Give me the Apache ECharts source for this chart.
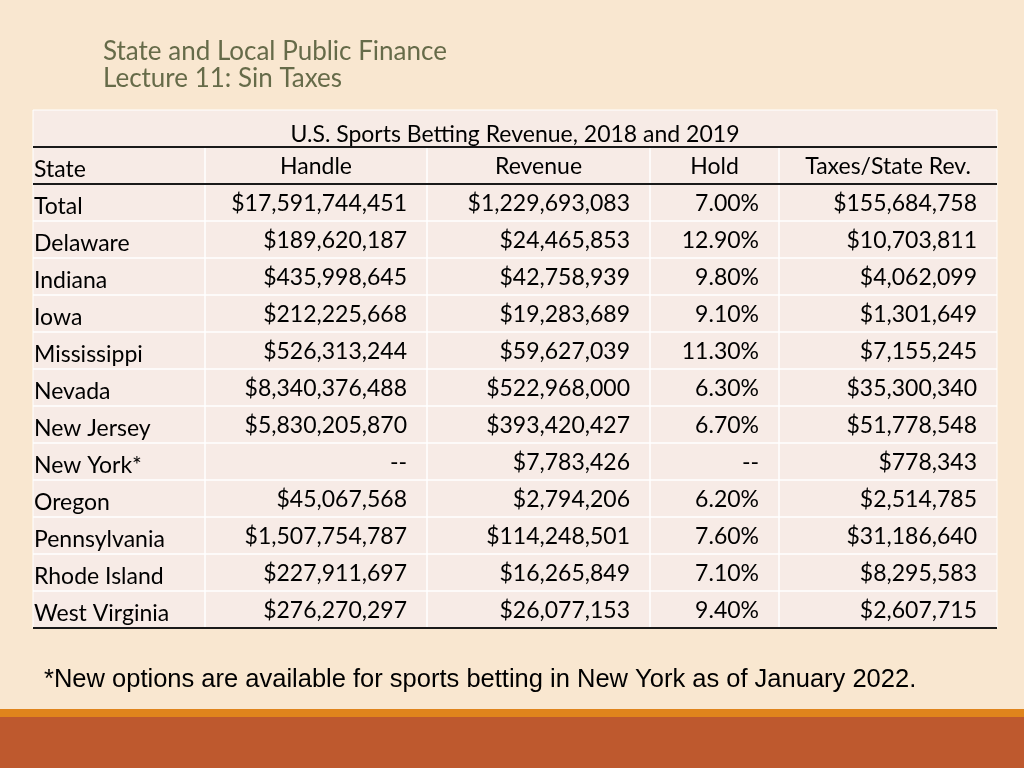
<!DOCTYPE html>
<html><head><meta charset="utf-8">
<script src="https://cdn.jsdelivr.net/npm/echarts@6/dist/echarts.min.js"></script>
<style>html,body{margin:0;padding:0;background:#F9E7D0}#c{width:1024px;height:768px}</style>
</head><body><div id="c"></div>
<script>
const slideTitle = ['State and Local Public Finance', 'Lecture 11: Sin Taxes'];
const tableTitle = 'U.S. Sports Betting Revenue, 2018 and 2019';
const columns = ['State', 'Handle', 'Revenue', 'Hold', 'Taxes/State Rev.'];
const states = ['Total','Delaware','Indiana','Iowa','Mississippi','Nevada','New Jersey','New York*','Oregon','Pennsylvania','Rhode Island','West Virginia'];
const handle = [17591744451,189620187,435998645,212225668,526313244,8340376488,5830205870,null,45067568,1507754787,227911697,276270297];
const revenue = [1229693083,24465853,42758939,19283689,59627039,522968000,393420427,7783426,2794206,114248501,16265849,26077153];
const hold = [7.00,12.90,9.80,9.10,11.30,6.30,6.70,null,6.20,7.60,7.10,9.40];
const taxes = [155684758,10703811,4062099,1301649,7155245,35300340,51778548,778343,2514785,31186640,8295583,2607715];
const footnote = '*New options are available for sports betting in New York as of January 2022.';

const FONT = 'Lato';
const money = v => v == null ? '--' : '$' + v.toLocaleString('en-US');
const pct = v => v == null ? '--' : v.toFixed(2) + '%';
// column edges in table units (grid x axis)
const edges = [0, 172, 394, 617, 746, 964];
const nRows = states.length + 2;

const items = [[-1, -1]];
for (let r = 0; r < nRows; r++) items.push([r, r]);

function renderItem(params, api) {
  const r = api.value(0);
  const X = e => api.coord([edges[e], 0])[0];
  const Y = row => api.coord([0, row])[1];
  if (r < 0) {
    const ch = [];
    const x0 = X(0), x1 = X(5), y0 = Y(0), y1 = Y(nRows);
    ch.push({type:'rect', shape:{x:x0, y:y0, width:x1-x0, height:y1-y0}, style:{fill:'#F7EBE6', stroke:'#FFFFFF', lineWidth:1}});
    for (let k = 1; k < nRows; k++) {
      ch.push({type:'line', shape:{x1:x0, y1:Y(k), x2:x1, y2:Y(k)}, style:{stroke:'#FFFFFF', lineWidth:1.5}});
    }
    for (let e = 1; e < 5; e++) {
      ch.push({type:'line', shape:{x1:X(e), y1:Y(1), x2:X(e), y2:y1}, style:{stroke:'#FFFFFF', lineWidth:1.5}});
    }
    [1, 2, nRows].forEach(k => ch.push({type:'line', shape:{x1:x0, y1:Y(k), x2:x1, y2:Y(k)}, style:{stroke:'#1a1a1a', lineWidth:2}}));
    return {type:'group', children:ch};
  }
  const yc = (Y(r) + Y(r + 1)) / 2;
  const txt = (text, x, y, align) => ({type:'text', style:{text, x, y, align, verticalAlign:'middle', font:'23px ' + FONT, fill:'#000'}});
  if (r === 0) {
    return {type:'group', children:[txt(tableTitle, (X(0)+X(5))/2, yc + 6.5, 'center')]};
  }
  if (r === 1) {
    const ch = [txt(columns[0], X(0) + 1, yc + 4, 'left')];
    for (let c = 1; c < 5; c++) ch.push(txt(columns[c], (X(c)+X(c+1))/2, yc + 1.5, 'center'));
    return {type:'group', children:ch};
  }
  const i = r - 2;
  const vals = [money(handle[i]), money(revenue[i]), pct(hold[i]), money(taxes[i])];
  const ch = [txt(states[i], X(0) + 1, yc + 4, 'left')];
  vals.forEach((v, c) => ch.push(txt(v, X(c + 2) - 20, yc + 1.5, 'right')));
  return {type:'group', children:ch};
}

const chart = echarts.init(document.getElementById('c'), null, {renderer:'canvas'});
chart.setOption({
  backgroundColor: '#F9E7D0',
  animation: false,
  title: [
    {text: slideTitle.join('\n'), left: 98, top: 33, textStyle:{fontFamily:FONT, fontWeight:'normal', fontSize:26, color:'#666B49', lineHeight:27}},
    {text: footnote, left: 39, top: 660, textStyle:{fontFamily:'Liberation Sans', fontWeight:'normal', fontSize:25.5, color:'#000', lineHeight:30}}
  ],
  grid: {left: 33, right: 27, top: 110, bottom: 140},
  xAxis: {type:'value', min:0, max:964, show:false},
  yAxis: {type:'value', min:0, max:nRows, inverse:true, show:false},
  series: [{type:'custom', renderItem, data: items, clip:false, silent:true}],
  graphic: [
    {type:'rect', shape:{x:0, y:709, width:1024, height:8}, style:{fill:'#E0841C'}},
    {type:'rect', shape:{x:0, y:717, width:1024, height:51}, style:{fill:'#BE592E'}}
  ]
});
</script></body></html>
